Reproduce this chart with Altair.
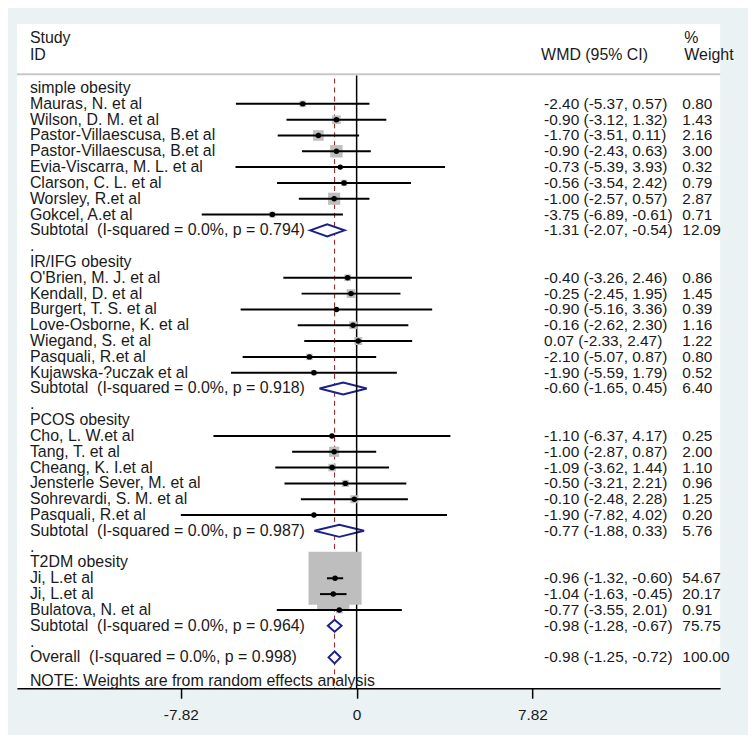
import altair as alt
import pandas as pd

FONT = "Liberation Sans"
NAVY = "#1B1F8A"
TXT = "#1A1A1A"

# ---------------- data ----------------
group_names = ["simple obesity", "IR/IFG obesity", "PCOS obesity", "T2DM obesity"]

simple_names = ["Mauras, N. et al", "Wilson, D. M. et al", "Pastor-Villaescusa, B.et al",
                "Pastor-Villaescusa, B.et al", "Evia-Viscarra, M. L. et al", "Clarson, C. L. et al",
                "Worsley, R.et al", "Gokcel, A.et al"]
simple_est = [-2.40, -0.90, -1.70, -0.90, -0.73, -0.56, -1.00, -3.75]
simple_lo = [-5.37, -3.12, -3.51, -2.43, -5.39, -3.54, -2.57, -6.89]
simple_hi = [0.57, 1.32, 0.11, 0.63, 3.93, 2.42, 0.57, -0.61]
simple_w = [0.80, 1.43, 2.16, 3.00, 0.32, 0.79, 2.87, 0.71]

irifg_names = ["O'Brien, M. J. et al", "Kendall, D. et al", "Burgert, T. S. et al",
               "Love-Osborne, K. et al", "Wiegand, S. et al", "Pasquali, R.et al",
               "Kujawska-?uczak et al"]
irifg_est = [-0.40, -0.25, -0.90, -0.16, 0.07, -2.10, -1.90]
irifg_lo = [-3.26, -2.45, -5.16, -2.62, -2.33, -5.07, -5.59]
irifg_hi = [2.46, 1.95, 3.36, 2.30, 2.47, 0.87, 1.79]
irifg_w = [0.86, 1.45, 0.39, 1.16, 1.22, 0.80, 0.52]

pcos_names = ["Cho, L. W.et al", "Tang, T. et al", "Cheang, K. I.et al",
              "Jensterle Sever, M. et al", "Sohrevardi, S. M. et al", "Pasquali, R.et al"]
pcos_est = [-1.10, -1.00, -1.09, -0.50, -0.10, -1.90]
pcos_lo = [-6.37, -2.87, -3.62, -3.21, -2.48, -7.82]
pcos_hi = [4.17, 0.87, 1.44, 2.21, 2.28, 4.02]
pcos_w = [0.25, 2.00, 1.10, 0.96, 1.25, 0.20]

t2dm_names = ["Ji, L.et al", "Ji, L.et al", "Bulatova, N. et al"]
t2dm_est = [-0.96, -1.04, -0.77]
t2dm_lo = [-1.32, -1.63, -3.55]
t2dm_hi = [-0.60, -0.45, 2.01]
t2dm_w = [54.67, 20.17, 0.91]

subtotal_p = ["0.794", "0.918", "0.987", "0.964"]
subtotal_est = [-1.31, -0.60, -0.77, -0.98]
subtotal_lo = [-2.07, -1.65, -1.88, -1.28]
subtotal_hi = [-0.54, 0.45, 0.33, -0.67]
subtotal_w = [12.09, 6.40, 5.76, 75.75]

overall_p = "0.998"
overall_est = -0.98
overall_lo = -1.25
overall_hi = -0.72
overall_w = 100.00

x_ticks = [-7.82, 0, 7.82]

# ---------------- build tables ----------------
groups = [
    (simple_names, simple_est, simple_lo, simple_hi, simple_w),
    (irifg_names, irifg_est, irifg_lo, irifg_hi, irifg_w),
    (pcos_names, pcos_est, pcos_lo, pcos_hi, pcos_w),
    (t2dm_names, t2dm_est, t2dm_lo, t2dm_hi, t2dm_w),
]

def ci_text(e, l, h):
    return f"{e:.2f} ({l:.2f}, {h:.2f})"

text_rows, study_rows, diamonds = [], [], []
r = 0
for gi, (names, est, lo, hi, w) in enumerate(groups):
    text_rows.append({"row": r, "label": group_names[gi], "ci": "", "wt": ""})
    r += 1
    for n, e, l, h, ww in zip(names, est, lo, hi, w):
        text_rows.append({"row": r, "label": n, "ci": ci_text(e, l, h), "wt": f"{ww:.2f}"})
        study_rows.append({"row": r, "est": e, "lo": l, "hi": h, "w": ww})
        r += 1
    e, l, h = subtotal_est[gi], subtotal_lo[gi], subtotal_hi[gi]
    text_rows.append({"row": r,
                      "label": f"Subtotal\u00a0 (I-squared = 0.0%, p = {subtotal_p[gi]})",
                      "ci": ci_text(e, l, h), "wt": f"{subtotal_w[gi]:.2f}"})
    diamonds += [
        {"id": gi, "x": l, "y1": r, "y2": r},
        {"id": gi, "x": e, "y1": r - 0.38, "y2": r + 0.38},
        {"id": gi, "x": h, "y1": r, "y2": r},
    ]
    r += 1
    text_rows.append({"row": r, "label": ".", "ci": "", "wt": ""})
    r += 1

text_rows.append({"row": r, "label": f"Overall\u00a0 (I-squared = 0.0%, p = {overall_p})",
                  "ci": ci_text(overall_est, overall_lo, overall_hi), "wt": f"{overall_w:.2f}"})
diamonds += [
    {"id": 9, "x": overall_lo, "y1": r, "y2": r},
    {"id": 9, "x": overall_est, "y1": r - 0.38, "y2": r + 0.38},
    {"id": 9, "x": overall_hi, "y1": r, "y2": r},
]
text_rows.append({"row": r + 1.5, "label": "NOTE: Weights are from random effects analysis",
                  "ci": "", "wt": ""})

texts = pd.DataFrame(text_rows)
studies = pd.DataFrame(study_rows)
diam = pd.DataFrame(diamonds)
overall_df = pd.DataFrame({"est": [overall_est]})
zero_df = pd.DataFrame({"x": [0]})
one = pd.DataFrame({"a": [0]})

# ---------------- scales ----------------
W, H = 707, 668
XS = alt.Scale(domain=[-15.11, 16.17], nice=False, zero=False)
YS = alt.Scale(domain=[37.956, -4.057], nice=False, zero=False)
XAX = alt.Axis(values=x_ticks, labelExpr="datum.value == 0 ? '0' : toString(datum.value)",
               tickSize=10, tickWidth=1.5, tickColor="black", domainColor="black",
               domainWidth=1.5, labelFontSize=15.5, labelFont=FONT, labelColor=TXT,
               labelPadding=9, grid=False, title=None, labelFlush=False)

def X(f):
    return alt.X(f, scale=XS, axis=XAX, title=None)

def Y(f):
    return alt.Y(f, scale=YS, axis=None, title=None)

sep = alt.Chart(one).mark_rule(color="#C8C8C8", strokeWidth=2).encode(
    x=alt.value(0), x2=alt.value(W), y=alt.value(50.7))

dashed = alt.Chart(overall_df).mark_rule(color="#8B1A1A", strokeWidth=1,
                                         strokeDash=[5, 4]).encode(
    x=X("est:Q"), y=alt.value(55), y2=alt.value(H))

diamond = alt.Chart(diam).mark_area(fill="white", fillOpacity=1, stroke=NAVY,
                                    strokeWidth=2, strokeJoin="miter").encode(
    x=X("x:Q"), y=Y("y1:Q"), y2="y2:Q", detail="id:N")

zero = alt.Chart(zero_df).mark_rule(color="black", strokeWidth=1.5).encode(
    x=X("x:Q"), y=alt.value(52), y2=alt.value(H))

squares = alt.Chart(studies).mark_square(color="#BEBEBE", opacity=1).encode(
    x=X("est:Q"), y=Y("row:Q"),
    size=alt.Size("w:Q", scale=alt.Scale(domain=[0, 100], range=[0, 5200]), legend=None))

cis = alt.Chart(studies).mark_rule(color="black", strokeWidth=2).encode(
    x=X("lo:Q"), x2="hi:Q", y=Y("row:Q"))

dots = alt.Chart(studies).mark_circle(color="black", size=30, opacity=1).encode(
    x=X("est:Q"), y=Y("row:Q"))

labels = alt.Chart(texts).mark_text(align="left", baseline="middle", font=FONT,
                                    fontSize=16, color=TXT).encode(
    x=alt.value(13), y=Y("row:Q"), text="label:N")

cit = alt.Chart(texts).mark_text(align="left", baseline="middle", font=FONT,
                                 fontSize=15.5, color=TXT).encode(
    x=alt.value(530), y=Y("row:Q"), text="ci:N")

wtt = alt.Chart(texts).mark_text(align="left", baseline="middle", font=FONT,
                                 fontSize=15.5, color=TXT).encode(
    x=alt.value(669), y=Y("row:Q"), text="wt:N")

def hdr(t, x, y):
    return alt.Chart(pd.DataFrame({"t": [t]})).mark_text(
        align="left", baseline="middle", font=FONT, fontSize=16, color=TXT).encode(
        x=alt.value(x), y=alt.value(y), text="t:N")

headers = [hdr("Study", 13, 14), hdr("ID", 13, 31), hdr("WMD (95% CI)", 527, 31),
           hdr("%", 671, 14), hdr("Weight", 671, 31)]

chart = alt.layer(
    sep, dashed, diamond, zero, squares, cis, dots, labels, cit, wtt, *headers
).properties(
    width=W, height=H,
    padding={"left": 9, "top": 14, "right": 28, "bottom": 45},
    autosize=alt.AutoSizeParams(type="none"),
    background="#EAF2F3",
).configure_view(fill="white", strokeWidth=0)

chart.save("out.html", embed_options={"renderer": "svg", "actions": False})
